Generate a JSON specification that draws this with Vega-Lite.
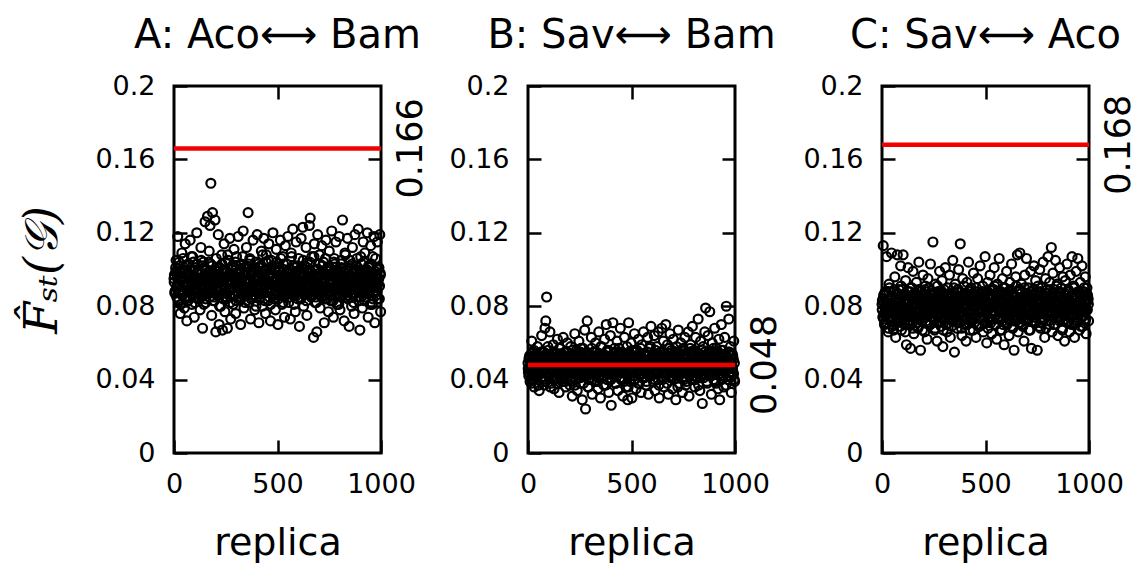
{
 "$schema": "https://vega.github.io/schema/vega-lite/v6.json",
 "background": "white",
 "padding": {"left": 18, "top": 14, "right": 0, "bottom": 0},
 "spacing": 147,
 "bounds": "flush",
 "config": {
  "view": {"stroke": "black", "strokeWidth": 3},
  "axis": {"domain": false, "grid": false, "labelFont": "DejaVu Sans", "labelFontSize": 27, "labelColor": "black", "tickColor": "black", "tickWidth": 2.5, "tickSize": -13, "titleFont": "DejaVu Sans", "titleFontWeight": "normal", "titleColor": "black", "labelFlush": false, "labelOverlap": false},
  "title": {"font": "DejaVu Sans", "fontSize": 40, "fontWeight": "normal", "color": "black", "frame": "group", "anchor": "middle", "baseline": "alphabetic", "offset": 16}
 },
 "datasets": {
  "lines": [{"p": "A", "v": 0.166}, {"p": "B", "v": 0.048}, {"p": "C", "v": 0.168}],
  "pts": [
{"r":2,"a":0.097,"b":0.044,"c":0.083},{"r":6,"a":0.088,"b":0.052,"c":0.113},{"r":10,"a":0.105,"b":0.039,"c":0.076},{"r":14,"a":0.091,"b":0.049,"c":0.071},{"r":18,"a":0.118,"b":0.061,"c":0.088},{"r":22,"a":0.083,"b":0.043,"c":0.107},{"r":26,"a":0.099,"b":0.055,"c":0.079},{"r":30,"a":0.076,"b":0.036,"c":0.066},{"r":34,"a":0.094,"b":0.047,"c":0.092},{"r":38,"a":0.109,"b":0.051,"c":0.074},
{"r":42,"a":0.087,"b":0.041,"c":0.085},{"r":46,"a":0.100,"b":0.058,"c":0.109},{"r":50,"a":0.079,"b":0.045,"c":0.069},{"r":54,"a":0.114,"b":0.034,"c":0.081},{"r":58,"a":0.092,"b":0.053,"c":0.077},{"r":62,"a":0.072,"b":0.048,"c":0.096},{"r":66,"a":0.096,"b":0.064,"c":0.063},{"r":70,"a":0.103,"b":0.040,"c":0.084},{"r":74,"a":0.085,"b":0.050,"c":0.108},{"r":78,"a":0.116,"b":0.037,"c":0.073},
{"r":82,"a":0.090,"b":0.068,"c":0.089},{"r":86,"a":0.081,"b":0.072,"c":0.075},{"r":90,"a":0.107,"b":0.085,"c":0.102},{"r":94,"a":0.095,"b":0.046,"c":0.067},{"r":98,"a":0.074,"b":0.056,"c":0.080},{"r":102,"a":0.101,"b":0.042,"c":0.108},{"r":106,"a":0.089,"b":0.066,"c":0.086},{"r":110,"a":0.120,"b":0.038,"c":0.072},{"r":114,"a":0.084,"b":0.052,"c":0.094},{"r":118,"a":0.098,"b":0.044,"c":0.059},
{"r":122,"a":0.093,"b":0.059,"c":0.078},{"r":126,"a":0.078,"b":0.035,"c":0.101},{"r":130,"a":0.112,"b":0.049,"c":0.070},{"r":134,"a":0.086,"b":0.054,"c":0.083},{"r":138,"a":0.068,"b":0.041,"c":0.057},{"r":142,"a":0.104,"b":0.062,"c":0.090},{"r":146,"a":0.091,"b":0.047,"c":0.076},{"r":150,"a":0.126,"b":0.033,"c":0.099},{"r":154,"a":0.082,"b":0.057,"c":0.065},{"r":158,"a":0.097,"b":0.045,"c":0.087},
{"r":162,"a":0.129,"b":0.050,"c":0.074},{"r":166,"a":0.088,"b":0.039,"c":0.093},{"r":170,"a":0.110,"b":0.063,"c":0.081},{"r":174,"a":0.124,"b":0.043,"c":0.068},{"r":178,"a":0.147,"b":0.055,"c":0.104},{"r":182,"a":0.075,"b":0.036,"c":0.079},{"r":186,"a":0.131,"b":0.048,"c":0.056},{"r":190,"a":0.094,"b":0.060,"c":0.088},{"r":194,"a":0.083,"b":0.042,"c":0.072},{"r":198,"a":0.127,"b":0.051,"c":0.097},
{"r":202,"a":0.066,"b":0.037,"c":0.084},{"r":206,"a":0.101,"b":0.058,"c":0.066},{"r":210,"a":0.089,"b":0.044,"c":0.091},{"r":214,"a":0.119,"b":0.031,"c":0.077},{"r":218,"a":0.070,"b":0.053,"c":0.062},{"r":222,"a":0.096,"b":0.047,"c":0.095},{"r":226,"a":0.080,"b":0.065,"c":0.082},{"r":230,"a":0.108,"b":0.040,"c":0.070},{"r":234,"a":0.067,"b":0.056,"c":0.103},{"r":238,"a":0.092,"b":0.034,"c":0.086},
{"r":242,"a":0.114,"b":0.049,"c":0.074},{"r":246,"a":0.077,"b":0.061,"c":0.115},{"r":250,"a":0.099,"b":0.045,"c":0.080},{"r":254,"a":0.085,"b":0.038,"c":0.067},{"r":258,"a":0.068,"b":0.052,"c":0.092},{"r":262,"a":0.105,"b":0.029,"c":0.078},{"r":266,"a":0.093,"b":0.057,"c":0.061},{"r":270,"a":0.117,"b":0.043,"c":0.088},{"r":274,"a":0.073,"b":0.067,"c":0.075},{"r":278,"a":0.090,"b":0.024,"c":0.099},
{"r":282,"a":0.102,"b":0.050,"c":0.083},{"r":286,"a":0.081,"b":0.072,"c":0.069},{"r":290,"a":0.111,"b":0.036,"c":0.094},{"r":294,"a":0.095,"b":0.054,"c":0.058},{"r":298,"a":0.076,"b":0.046,"c":0.085},{"r":302,"a":0.107,"b":0.041,"c":0.073},{"r":306,"a":0.088,"b":0.063,"c":0.101},{"r":310,"a":0.118,"b":0.032,"c":0.080},{"r":314,"a":0.084,"b":0.048,"c":0.066},{"r":318,"a":0.098,"b":0.055,"c":0.090},
{"r":322,"a":0.070,"b":0.039,"c":0.077},{"r":326,"a":0.103,"b":0.060,"c":0.097},{"r":330,"a":0.091,"b":0.044,"c":0.063},{"r":334,"a":0.121,"b":0.051,"c":0.086},{"r":338,"a":0.079,"b":0.035,"c":0.072},{"r":342,"a":0.097,"b":0.066,"c":0.105},{"r":346,"a":0.086,"b":0.047,"c":0.081},{"r":350,"a":0.112,"b":0.030,"c":0.055},{"r":354,"a":0.094,"b":0.058,"c":0.092},{"r":358,"a":0.131,"b":0.042,"c":0.076},
{"r":362,"a":0.082,"b":0.053,"c":0.068},{"r":366,"a":0.106,"b":0.037,"c":0.089},{"r":370,"a":0.073,"b":0.062,"c":0.100},{"r":374,"a":0.099,"b":0.045,"c":0.074},{"r":378,"a":0.088,"b":0.070,"c":0.114},{"r":382,"a":0.116,"b":0.040,"c":0.083},{"r":386,"a":0.092,"b":0.056,"c":0.064},{"r":390,"a":0.078,"b":0.033,"c":0.095},{"r":394,"a":0.104,"b":0.049,"c":0.079},{"r":398,"a":0.085,"b":0.064,"c":0.070},
{"r":402,"a":0.119,"b":0.026,"c":0.087},{"r":406,"a":0.095,"b":0.052,"c":0.061},{"r":410,"a":0.071,"b":0.071,"c":0.093},{"r":414,"a":0.101,"b":0.043,"c":0.076},{"r":418,"a":0.087,"b":0.057,"c":0.104},{"r":422,"a":0.110,"b":0.038,"c":0.082},{"r":426,"a":0.080,"b":0.048,"c":0.067},{"r":430,"a":0.096,"b":0.061,"c":0.090},{"r":434,"a":0.117,"b":0.034,"c":0.073},{"r":438,"a":0.090,"b":0.054,"c":0.085},
{"r":442,"a":0.076,"b":0.046,"c":0.098},{"r":446,"a":0.108,"b":0.068,"c":0.071},{"r":450,"a":0.093,"b":0.040,"c":0.088},{"r":454,"a":0.083,"b":0.055,"c":0.063},{"r":458,"a":0.114,"b":0.031,"c":0.080},{"r":462,"a":0.098,"b":0.050,"c":0.095},{"r":466,"a":0.072,"b":0.063,"c":0.077},{"r":470,"a":0.105,"b":0.044,"c":0.069},{"r":474,"a":0.089,"b":0.036,"c":0.102},{"r":478,"a":0.120,"b":0.058,"c":0.084},
{"r":482,"a":0.084,"b":0.029,"c":0.074},{"r":486,"a":0.100,"b":0.071,"c":0.091},{"r":490,"a":0.078,"b":0.047,"c":0.066},{"r":494,"a":0.111,"b":0.039,"c":0.086},{"r":498,"a":0.094,"b":0.060,"c":0.107},{"r":502,"a":0.070,"b":0.030,"c":0.078},{"r":506,"a":0.103,"b":0.053,"c":0.060},{"r":510,"a":0.087,"b":0.042,"c":0.093},{"r":514,"a":0.116,"b":0.065,"c":0.081},{"r":518,"a":0.092,"b":0.049,"c":0.072},
{"r":522,"a":0.081,"b":0.035,"c":0.097},{"r":526,"a":0.107,"b":0.056,"c":0.084},{"r":530,"a":0.096,"b":0.044,"c":0.065},{"r":534,"a":0.074,"b":0.062,"c":0.089},{"r":538,"a":0.113,"b":0.038,"c":0.076},{"r":542,"a":0.088,"b":0.051,"c":0.101},{"r":546,"a":0.099,"b":0.033,"c":0.070},{"r":550,"a":0.118,"b":0.059,"c":0.087},{"r":554,"a":0.082,"b":0.045,"c":0.062},{"r":558,"a":0.095,"b":0.066,"c":0.092},
{"r":562,"a":0.073,"b":0.041,"c":0.079},{"r":566,"a":0.109,"b":0.054,"c":0.106},{"r":570,"a":0.091,"b":0.037,"c":0.073},{"r":574,"a":0.122,"b":0.048,"c":0.088},{"r":578,"a":0.086,"b":0.063,"c":0.067},{"r":582,"a":0.101,"b":0.032,"c":0.095},{"r":586,"a":0.077,"b":0.057,"c":0.081},{"r":590,"a":0.115,"b":0.043,"c":0.059},{"r":594,"a":0.093,"b":0.069,"c":0.090},{"r":598,"a":0.084,"b":0.046,"c":0.075},
{"r":602,"a":0.106,"b":0.052,"c":0.099},{"r":606,"a":0.069,"b":0.039,"c":0.071},{"r":610,"a":0.097,"b":0.064,"c":0.085},{"r":614,"a":0.117,"b":0.034,"c":0.064},{"r":618,"a":0.088,"b":0.050,"c":0.093},{"r":622,"a":0.123,"b":0.058,"c":0.078},{"r":626,"a":0.080,"b":0.044,"c":0.103},{"r":630,"a":0.102,"b":0.066,"c":0.069},{"r":634,"a":0.094,"b":0.030,"c":0.087},{"r":638,"a":0.112,"b":0.055,"c":0.056},
{"r":642,"a":0.075,"b":0.047,"c":0.082},{"r":646,"a":0.099,"b":0.068,"c":0.096},{"r":650,"a":0.089,"b":0.040,"c":0.074},{"r":654,"a":0.124,"b":0.061,"c":0.108},{"r":658,"a":0.128,"b":0.036,"c":0.066},{"r":662,"a":0.085,"b":0.053,"c":0.089},{"r":666,"a":0.107,"b":0.070,"c":0.109},{"r":670,"a":0.096,"b":0.043,"c":0.077},{"r":674,"a":0.063,"b":0.059,"c":0.092},{"r":678,"a":0.114,"b":0.032,"c":0.070},
{"r":682,"a":0.082,"b":0.049,"c":0.085},{"r":686,"a":0.100,"b":0.065,"c":0.061},{"r":690,"a":0.066,"b":0.041,"c":0.097},{"r":694,"a":0.119,"b":0.056,"c":0.080},{"r":698,"a":0.091,"b":0.035,"c":0.106},{"r":702,"a":0.108,"b":0.062,"c":0.073},{"r":706,"a":0.079,"b":0.045,"c":0.090},{"r":710,"a":0.097,"b":0.052,"c":0.067},{"r":714,"a":0.113,"b":0.029,"c":0.084},{"r":718,"a":0.086,"b":0.058,"c":0.099},
{"r":722,"a":0.104,"b":0.042,"c":0.057},{"r":726,"a":0.071,"b":0.067,"c":0.088},{"r":730,"a":0.095,"b":0.038,"c":0.076},{"r":734,"a":0.116,"b":0.051,"c":0.102},{"r":738,"a":0.087,"b":0.060,"c":0.071},{"r":742,"a":0.101,"b":0.046,"c":0.094},{"r":746,"a":0.077,"b":0.033,"c":0.083},{"r":750,"a":0.110,"b":0.057,"c":0.056},{"r":754,"a":0.093,"b":0.044,"c":0.091},{"r":758,"a":0.083,"b":0.063,"c":0.078},
{"r":762,"a":0.121,"b":0.037,"c":0.100},{"r":766,"a":0.098,"b":0.054,"c":0.068},{"r":770,"a":0.074,"b":0.047,"c":0.086},{"r":774,"a":0.106,"b":0.066,"c":0.074},{"r":778,"a":0.090,"b":0.031,"c":0.104},{"r":782,"a":0.115,"b":0.050,"c":0.080},{"r":786,"a":0.081,"b":0.059,"c":0.063},{"r":790,"a":0.099,"b":0.040,"c":0.095},{"r":794,"a":0.092,"b":0.069,"c":0.076},{"r":798,"a":0.118,"b":0.045,"c":0.089},
{"r":802,"a":0.078,"b":0.056,"c":0.107},{"r":806,"a":0.103,"b":0.036,"c":0.072},{"r":810,"a":0.088,"b":0.063,"c":0.093},{"r":814,"a":0.127,"b":0.048,"c":0.081},{"r":818,"a":0.096,"b":0.041,"c":0.112},{"r":822,"a":0.072,"b":0.073,"c":0.066},{"r":826,"a":0.109,"b":0.053,"c":0.098},{"r":830,"a":0.085,"b":0.034,"c":0.085},{"r":834,"a":0.100,"b":0.061,"c":0.070},{"r":838,"a":0.117,"b":0.046,"c":0.105},
{"r":842,"a":0.091,"b":0.027,"c":0.077},{"r":846,"a":0.069,"b":0.058,"c":0.092},{"r":850,"a":0.105,"b":0.043,"c":0.064},{"r":854,"a":0.094,"b":0.066,"c":0.087},{"r":858,"a":0.080,"b":0.079,"c":0.101},{"r":862,"a":0.112,"b":0.050,"c":0.074},{"r":866,"a":0.098,"b":0.038,"c":0.090},{"r":870,"a":0.076,"b":0.064,"c":0.068},{"r":874,"a":0.119,"b":0.047,"c":0.096},{"r":878,"a":0.087,"b":0.077,"c":0.083},
{"r":882,"a":0.102,"b":0.055,"c":0.061},{"r":886,"a":0.093,"b":0.032,"c":0.094},{"r":890,"a":0.122,"b":0.060,"c":0.079},{"r":894,"a":0.083,"b":0.044,"c":0.103},{"r":898,"a":0.067,"b":0.052,"c":0.072},{"r":902,"a":0.107,"b":0.068,"c":0.088},{"r":906,"a":0.095,"b":0.039,"c":0.066},{"r":910,"a":0.079,"b":0.057,"c":0.097},{"r":914,"a":0.115,"b":0.045,"c":0.082},{"r":918,"a":0.090,"b":0.035,"c":0.107},
{"r":922,"a":0.109,"b":0.062,"c":0.075},{"r":926,"a":0.085,"b":0.029,"c":0.091},{"r":930,"a":0.100,"b":0.049,"c":0.063},{"r":934,"a":0.120,"b":0.070,"c":0.086},{"r":938,"a":0.074,"b":0.042,"c":0.099},{"r":942,"a":0.096,"b":0.056,"c":0.071},{"r":946,"a":0.088,"b":0.036,"c":0.106},{"r":950,"a":0.113,"b":0.063,"c":0.080},{"r":954,"a":0.103,"b":0.045,"c":0.067},{"r":958,"a":0.081,"b":0.080,"c":0.093},
{"r":962,"a":0.097,"b":0.051,"c":0.078},{"r":966,"a":0.118,"b":0.040,"c":0.102},{"r":970,"a":0.071,"b":0.073,"c":0.069},{"r":974,"a":0.106,"b":0.047,"c":0.088},{"r":978,"a":0.092,"b":0.058,"c":0.075},{"r":982,"a":0.115,"b":0.033,"c":0.096},{"r":986,"a":0.084,"b":0.054,"c":0.065},{"r":990,"a":0.101,"b":0.044,"c":0.090},{"r":994,"a":0.119,"b":0.061,"c":0.083},{"r":998,"a":0.077,"b":0.039,"c":0.072},
{"r":0,"a":0.095,"b":0.049,"c":0.081},{"r":4,"a":0.087,"b":0.042,"c":0.074},{"r":8,"a":0.101,"b":0.053,"c":0.086},{"r":12,"a":0.090,"b":0.045,"c":0.070},{"r":16,"a":0.098,"b":0.038,"c":0.079},{"r":20,"a":0.084,"b":0.051,"c":0.088},{"r":24,"a":0.104,"b":0.047,"c":0.076},{"r":28,"a":0.092,"b":0.056,"c":0.083},{"r":32,"a":0.081,"b":0.040,"c":0.068},{"r":36,"a":0.096,"b":0.048,"c":0.090},
{"r":40,"a":0.089,"b":0.054,"c":0.078},{"r":44,"a":0.106,"b":0.043,"c":0.072},{"r":48,"a":0.093,"b":0.050,"c":0.085},{"r":52,"a":0.085,"b":0.037,"c":0.080},{"r":56,"a":0.099,"b":0.046,"c":0.067},{"r":60,"a":0.091,"b":0.052,"c":0.089},{"r":64,"a":0.102,"b":0.041,"c":0.075},{"r":68,"a":0.083,"b":0.049,"c":0.082},{"r":72,"a":0.097,"b":0.044,"c":0.071},{"r":76,"a":0.088,"b":0.055,"c":0.087},
{"r":80,"a":0.094,"b":0.047,"c":0.077},{"r":84,"a":0.107,"b":0.039,"c":0.084},{"r":88,"a":0.086,"b":0.052,"c":0.069},{"r":92,"a":0.100,"b":0.045,"c":0.091},{"r":96,"a":0.092,"b":0.058,"c":0.080},{"r":100,"a":0.082,"b":0.042,"c":0.073},{"r":104,"a":0.096,"b":0.049,"c":0.086},{"r":108,"a":0.090,"b":0.036,"c":0.078},{"r":112,"a":0.103,"b":0.053,"c":0.066},{"r":116,"a":0.087,"b":0.046,"c":0.083},
{"r":120,"a":0.099,"b":0.050,"c":0.075},{"r":124,"a":0.084,"b":0.040,"c":0.088},{"r":128,"a":0.093,"b":0.055,"c":0.079},{"r":132,"a":0.105,"b":0.044,"c":0.071},{"r":136,"a":0.089,"b":0.048,"c":0.085},{"r":140,"a":0.096,"b":0.038,"c":0.077},{"r":144,"a":0.081,"b":0.052,"c":0.090},{"r":148,"a":0.101,"b":0.046,"c":0.068},{"r":152,"a":0.094,"b":0.057,"c":0.082},{"r":156,"a":0.087,"b":0.041,"c":0.074},
{"r":160,"a":0.098,"b":0.049,"c":0.087},{"r":164,"a":0.091,"b":0.054,"c":0.076},{"r":168,"a":0.104,"b":0.043,"c":0.081},{"r":172,"a":0.085,"b":0.047,"c":0.069},{"r":176,"a":0.095,"b":0.051,"c":0.089},{"r":180,"a":0.088,"b":0.039,"c":0.078},{"r":184,"a":0.102,"b":0.055,"c":0.073},{"r":188,"a":0.092,"b":0.045,"c":0.086},{"r":192,"a":0.083,"b":0.050,"c":0.080},{"r":196,"a":0.097,"b":0.042,"c":0.067},
{"r":200,"a":0.090,"b":0.048,"c":0.084},{"r":204,"a":0.106,"b":0.053,"c":0.075},{"r":208,"a":0.086,"b":0.040,"c":0.088},{"r":212,"a":0.099,"b":0.046,"c":0.079},{"r":216,"a":0.093,"b":0.056,"c":0.071},{"r":220,"a":0.080,"b":0.044,"c":0.083},{"r":224,"a":0.095,"b":0.050,"c":0.077},{"r":228,"a":0.089,"b":0.037,"c":0.090},{"r":232,"a":0.103,"b":0.052,"c":0.070},{"r":236,"a":0.087,"b":0.047,"c":0.082},
{"r":240,"a":0.096,"b":0.043,"c":0.076},{"r":244,"a":0.091,"b":0.054,"c":0.087},{"r":248,"a":0.100,"b":0.049,"c":0.073},{"r":252,"a":0.084,"b":0.041,"c":0.080},{"r":256,"a":0.094,"b":0.057,"c":0.068},{"r":260,"a":0.108,"b":0.045,"c":0.085},{"r":264,"a":0.088,"b":0.050,"c":0.078},{"r":268,"a":0.097,"b":0.038,"c":0.091},{"r":272,"a":0.082,"b":0.053,"c":0.074},{"r":276,"a":0.093,"b":0.046,"c":0.081},
{"r":280,"a":0.101,"b":0.042,"c":0.088},{"r":284,"a":0.086,"b":0.055,"c":0.072},{"r":288,"a":0.095,"b":0.048,"c":0.079},{"r":292,"a":0.090,"b":0.036,"c":0.084},{"r":296,"a":0.104,"b":0.051,"c":0.067},{"r":300,"a":0.083,"b":0.044,"c":0.089},{"r":304,"a":0.098,"b":0.049,"c":0.076},{"r":308,"a":0.092,"b":0.057,"c":0.082},{"r":312,"a":0.087,"b":0.040,"c":0.070},{"r":316,"a":0.096,"b":0.053,"c":0.086},
{"r":320,"a":0.100,"b":0.046,"c":0.078},{"r":324,"a":0.085,"b":0.050,"c":0.073},{"r":328,"a":0.094,"b":0.043,"c":0.087},{"r":332,"a":0.107,"b":0.055,"c":0.080},{"r":336,"a":0.089,"b":0.039,"c":0.069},{"r":340,"a":0.097,"b":0.048,"c":0.083},{"r":344,"a":0.082,"b":0.052,"c":0.076},{"r":348,"a":0.093,"b":0.045,"c":0.090},{"r":352,"a":0.102,"b":0.058,"c":0.074},{"r":356,"a":0.088,"b":0.041,"c":0.081},
{"r":360,"a":0.095,"b":0.049,"c":0.085},{"r":364,"a":0.090,"b":0.054,"c":0.071},{"r":368,"a":0.105,"b":0.044,"c":0.079},{"r":372,"a":0.084,"b":0.047,"c":0.088},{"r":376,"a":0.098,"b":0.037,"c":0.075},{"r":380,"a":0.092,"b":0.051,"c":0.082},{"r":384,"a":0.086,"b":0.056,"c":0.068},{"r":388,"a":0.101,"b":0.043,"c":0.086},{"r":392,"a":0.094,"b":0.048,"c":0.077},{"r":396,"a":0.080,"b":0.040,"c":0.091},
{"r":400,"a":0.097,"b":0.053,"c":0.073},{"r":404,"a":0.089,"b":0.046,"c":0.080},{"r":408,"a":0.103,"b":0.050,"c":0.087},{"r":412,"a":0.091,"b":0.042,"c":0.070},{"r":416,"a":0.085,"b":0.055,"c":0.083},{"r":420,"a":0.099,"b":0.047,"c":0.076},{"r":424,"a":0.094,"b":0.038,"c":0.089},{"r":428,"a":0.108,"b":0.052,"c":0.072},{"r":432,"a":0.087,"b":0.045,"c":0.084},{"r":436,"a":0.096,"b":0.049,"c":0.078},
{"r":440,"a":0.083,"b":0.057,"c":0.067},{"r":444,"a":0.100,"b":0.041,"c":0.085},{"r":448,"a":0.092,"b":0.051,"c":0.080},{"r":452,"a":0.088,"b":0.044,"c":0.074},{"r":456,"a":0.105,"b":0.048,"c":0.090},{"r":460,"a":0.090,"b":0.054,"c":0.077},{"r":464,"a":0.097,"b":0.039,"c":0.082},{"r":468,"a":0.081,"b":0.047,"c":0.069},{"r":472,"a":0.095,"b":0.053,"c":0.086},{"r":476,"a":0.102,"b":0.043,"c":0.079},
{"r":480,"a":0.086,"b":0.050,"c":0.073},{"r":484,"a":0.093,"b":0.036,"c":0.088},{"r":488,"a":0.099,"b":0.055,"c":0.081},{"r":492,"a":0.088,"b":0.046,"c":0.075},{"r":496,"a":0.104,"b":0.042,"c":0.084},{"r":500,"a":0.091,"b":0.049,"c":0.071},{"r":504,"a":0.084,"b":0.056,"c":0.087},{"r":508,"a":0.097,"b":0.044,"c":0.078},{"r":512,"a":0.094,"b":0.051,"c":0.068},{"r":516,"a":0.106,"b":0.040,"c":0.082},
{"r":520,"a":0.089,"b":0.048,"c":0.089},{"r":524,"a":0.095,"b":0.053,"c":0.076},{"r":528,"a":0.082,"b":0.045,"c":0.080},{"r":532,"a":0.100,"b":0.038,"c":0.073},{"r":536,"a":0.092,"b":0.052,"c":0.086},{"r":540,"a":0.087,"b":0.047,"c":0.077},{"r":544,"a":0.103,"b":0.057,"c":0.091},{"r":548,"a":0.096,"b":0.043,"c":0.070},{"r":552,"a":0.090,"b":0.050,"c":0.083},{"r":556,"a":0.085,"b":0.041,"c":0.079},
{"r":560,"a":0.098,"b":0.054,"c":0.074},{"r":564,"a":0.093,"b":0.046,"c":0.088},{"r":568,"a":0.107,"b":0.049,"c":0.081},{"r":572,"a":0.088,"b":0.039,"c":0.067},{"r":576,"a":0.095,"b":0.055,"c":0.085},{"r":580,"a":0.081,"b":0.044,"c":0.078},{"r":584,"a":0.099,"b":0.051,"c":0.072},{"r":588,"a":0.091,"b":0.047,"c":0.090},{"r":592,"a":0.086,"b":0.058,"c":0.080},{"r":596,"a":0.102,"b":0.042,"c":0.075},
{"r":600,"a":0.094,"b":0.049,"c":0.084},{"r":604,"a":0.089,"b":0.053,"c":0.070},{"r":608,"a":0.100,"b":0.045,"c":0.087},{"r":612,"a":0.084,"b":0.040,"c":0.079},{"r":616,"a":0.096,"b":0.056,"c":0.073},{"r":620,"a":0.092,"b":0.048,"c":0.089},{"r":624,"a":0.105,"b":0.043,"c":0.076},{"r":628,"a":0.087,"b":0.052,"c":0.082},{"r":632,"a":0.097,"b":0.037,"c":0.068},{"r":636,"a":0.090,"b":0.050,"c":0.086},
{"r":640,"a":0.083,"b":0.046,"c":0.080},{"r":644,"a":0.101,"b":0.055,"c":0.074},{"r":648,"a":0.095,"b":0.044,"c":0.091},{"r":652,"a":0.088,"b":0.049,"c":0.077},{"r":656,"a":0.104,"b":0.041,"c":0.084},{"r":660,"a":0.091,"b":0.054,"c":0.071},{"r":664,"a":0.098,"b":0.047,"c":0.088},{"r":668,"a":0.086,"b":0.052,"c":0.079},{"r":672,"a":0.093,"b":0.038,"c":0.073},{"r":676,"a":0.107,"b":0.050,"c":0.085},
{"r":680,"a":0.089,"b":0.045,"c":0.069},{"r":684,"a":0.096,"b":0.057,"c":0.082},{"r":688,"a":0.082,"b":0.042,"c":0.090},{"r":692,"a":0.100,"b":0.048,"c":0.076},{"r":696,"a":0.092,"b":0.053,"c":0.080},{"r":700,"a":0.087,"b":0.046,"c":0.087},{"r":704,"a":0.103,"b":0.040,"c":0.072},{"r":708,"a":0.094,"b":0.051,"c":0.083},{"r":712,"a":0.090,"b":0.055,"c":0.078},{"r":716,"a":0.085,"b":0.043,"c":0.067},
{"r":720,"a":0.099,"b":0.049,"c":0.086},{"r":724,"a":0.095,"b":0.036,"c":0.075},{"r":728,"a":0.088,"b":0.052,"c":0.081},{"r":732,"a":0.106,"b":0.047,"c":0.089},{"r":736,"a":0.091,"b":0.044,"c":0.074},{"r":740,"a":0.084,"b":0.056,"c":0.080},{"r":744,"a":0.097,"b":0.050,"c":0.071},{"r":748,"a":0.093,"b":0.041,"c":0.088},{"r":752,"a":0.101,"b":0.048,"c":0.077},{"r":756,"a":0.086,"b":0.054,"c":0.084},
{"r":760,"a":0.092,"b":0.045,"c":0.069},{"r":764,"a":0.098,"b":0.039,"c":0.083},{"r":768,"a":0.083,"b":0.053,"c":0.079},{"r":772,"a":0.104,"b":0.047,"c":0.090},{"r":776,"a":0.090,"b":0.050,"c":0.073},{"r":780,"a":0.095,"b":0.042,"c":0.085},{"r":784,"a":0.087,"b":0.057,"c":0.078},{"r":788,"a":0.100,"b":0.046,"c":0.082},{"r":792,"a":0.094,"b":0.051,"c":0.068},{"r":796,"a":0.081,"b":0.044,"c":0.087},
{"r":800,"a":0.096,"b":0.049,"c":0.076},{"r":804,"a":0.089,"b":0.055,"c":0.084},{"r":808,"a":0.105,"b":0.040,"c":0.072},{"r":812,"a":0.092,"b":0.048,"c":0.089},{"r":816,"a":0.086,"b":0.052,"c":0.080},{"r":820,"a":0.099,"b":0.045,"c":0.075},{"r":824,"a":0.093,"b":0.037,"c":0.086},{"r":828,"a":0.108,"b":0.054,"c":0.079},{"r":832,"a":0.088,"b":0.047,"c":0.070},{"r":836,"a":0.095,"b":0.043,"c":0.083},
{"r":840,"a":0.084,"b":0.050,"c":0.077},{"r":844,"a":0.101,"b":0.056,"c":0.091},{"r":848,"a":0.091,"b":0.041,"c":0.074},{"r":852,"a":0.097,"b":0.048,"c":0.081},{"r":856,"a":0.087,"b":0.053,"c":0.088},{"r":860,"a":0.103,"b":0.046,"c":0.073},{"r":864,"a":0.094,"b":0.039,"c":0.085},{"r":868,"a":0.082,"b":0.051,"c":0.078},{"r":872,"a":0.099,"b":0.055,"c":0.067},{"r":876,"a":0.090,"b":0.044,"c":0.084},
{"r":880,"a":0.096,"b":0.049,"c":0.080},{"r":884,"a":0.106,"b":0.042,"c":0.087},{"r":888,"a":0.088,"b":0.052,"c":0.075},{"r":892,"a":0.093,"b":0.047,"c":0.082},{"r":896,"a":0.085,"b":0.057,"c":0.071},{"r":900,"a":0.100,"b":0.045,"c":0.089},{"r":904,"a":0.092,"b":0.050,"c":0.076},{"r":908,"a":0.097,"b":0.038,"c":0.083},{"r":912,"a":0.089,"b":0.054,"c":0.079},{"r":916,"a":0.104,"b":0.046,"c":0.070},
{"r":920,"a":0.083,"b":0.051,"c":0.086},{"r":924,"a":0.095,"b":0.043,"c":0.078},{"r":928,"a":0.091,"b":0.048,"c":0.090},{"r":932,"a":0.098,"b":0.056,"c":0.074},{"r":936,"a":0.087,"b":0.040,"c":0.081},{"r":940,"a":0.102,"b":0.049,"c":0.085},{"r":944,"a":0.094,"b":0.053,"c":0.072},{"r":948,"a":0.081,"b":0.045,"c":0.088},{"r":952,"a":0.096,"b":0.050,"c":0.077},{"r":956,"a":0.090,"b":0.037,"c":0.083},
{"r":960,"a":0.107,"b":0.052,"c":0.069},{"r":964,"a":0.088,"b":0.047,"c":0.086},{"r":968,"a":0.093,"b":0.055,"c":0.079},{"r":972,"a":0.099,"b":0.042,"c":0.075},{"r":976,"a":0.086,"b":0.049,"c":0.090},{"r":980,"a":0.101,"b":0.044,"c":0.080},{"r":984,"a":0.092,"b":0.054,"c":0.073},{"r":988,"a":0.095,"b":0.046,"c":0.087},{"r":992,"a":0.084,"b":0.051,"c":0.078},{"r":996,"a":0.098,"b":0.040,"c":0.084},
{"r":1,"a":0.093,"b":0.046,"c":0.078},{"r":5,"a":0.088,"b":0.051,"c":0.084},{"r":9,"a":0.099,"b":0.043,"c":0.073},{"r":13,"a":0.085,"b":0.048,"c":0.087},{"r":17,"a":0.096,"b":0.054,"c":0.080},{"r":21,"a":0.091,"b":0.040,"c":0.071},{"r":25,"a":0.102,"b":0.047,"c":0.082},{"r":29,"a":0.087,"b":0.052,"c":0.076},{"r":33,"a":0.094,"b":0.044,"c":0.088},{"r":37,"a":0.098,"b":0.049,"c":0.074},
{"r":41,"a":0.086,"b":0.053,"c":0.081},{"r":45,"a":0.095,"b":0.042,"c":0.077},{"r":49,"a":0.101,"b":0.047,"c":0.085},{"r":53,"a":0.090,"b":0.050,"c":0.070},{"r":57,"a":0.084,"b":0.045,"c":0.079},{"r":61,"a":0.097,"b":0.055,"c":0.083},{"r":65,"a":0.092,"b":0.041,"c":0.075},{"r":69,"a":0.103,"b":0.048,"c":0.086},{"r":73,"a":0.089,"b":0.052,"c":0.072},{"r":77,"a":0.094,"b":0.046,"c":0.080},
{"r":81,"a":0.099,"b":0.039,"c":0.078},{"r":85,"a":0.087,"b":0.050,"c":0.084},{"r":89,"a":0.093,"b":0.054,"c":0.073},{"r":93,"a":0.104,"b":0.044,"c":0.081},{"r":97,"a":0.090,"b":0.048,"c":0.089},{"r":101,"a":0.096,"b":0.053,"c":0.076},{"r":105,"a":0.085,"b":0.043,"c":0.082},{"r":109,"a":0.098,"b":0.047,"c":0.070},{"r":113,"a":0.092,"b":0.051,"c":0.079},{"r":117,"a":0.100,"b":0.045,"c":0.086},
{"r":121,"a":0.088,"b":0.049,"c":0.075},{"r":125,"a":0.095,"b":0.055,"c":0.083},{"r":129,"a":0.091,"b":0.041,"c":0.078},{"r":133,"a":0.086,"b":0.046,"c":0.088},{"r":137,"a":0.102,"b":0.052,"c":0.072},{"r":141,"a":0.094,"b":0.048,"c":0.080},{"r":145,"a":0.089,"b":0.043,"c":0.085},{"r":149,"a":0.097,"b":0.050,"c":0.074},{"r":153,"a":0.084,"b":0.054,"c":0.081},{"r":157,"a":0.100,"b":0.045,"c":0.077},
{"r":161,"a":0.093,"b":0.040,"c":0.087},{"r":165,"a":0.087,"b":0.049,"c":0.071},{"r":169,"a":0.096,"b":0.053,"c":0.079},{"r":173,"a":0.091,"b":0.046,"c":0.084},{"r":177,"a":0.103,"b":0.042,"c":0.076},{"r":181,"a":0.089,"b":0.051,"c":0.082},{"r":185,"a":0.095,"b":0.047,"c":0.073},{"r":189,"a":0.098,"b":0.055,"c":0.086},{"r":193,"a":0.085,"b":0.044,"c":0.080},{"r":197,"a":0.092,"b":0.048,"c":0.075},
{"r":201,"a":0.100,"b":0.052,"c":0.083},{"r":205,"a":0.088,"b":0.045,"c":0.078},{"r":209,"a":0.094,"b":0.039,"c":0.089},{"r":213,"a":0.097,"b":0.050,"c":0.072},{"r":217,"a":0.086,"b":0.054,"c":0.081},{"r":221,"a":0.101,"b":0.047,"c":0.076},{"r":225,"a":0.090,"b":0.043,"c":0.085},{"r":229,"a":0.093,"b":0.049,"c":0.079},{"r":233,"a":0.099,"b":0.053,"c":0.070},{"r":237,"a":0.084,"b":0.046,"c":0.084},
{"r":241,"a":0.095,"b":0.051,"c":0.077},{"r":245,"a":0.091,"b":0.041,"c":0.082},{"r":249,"a":0.104,"b":0.048,"c":0.074},{"r":253,"a":0.087,"b":0.055,"c":0.087},{"r":257,"a":0.096,"b":0.044,"c":0.080},{"r":261,"a":0.092,"b":0.050,"c":0.076},{"r":265,"a":0.089,"b":0.046,"c":0.083},{"r":269,"a":0.098,"b":0.052,"c":0.071},{"r":273,"a":0.085,"b":0.042,"c":0.079},{"r":277,"a":0.094,"b":0.048,"c":0.086},
{"r":281,"a":0.100,"b":0.054,"c":0.075},{"r":285,"a":0.090,"b":0.045,"c":0.081},{"r":289,"a":0.097,"b":0.049,"c":0.088},{"r":293,"a":0.086,"b":0.040,"c":0.073},{"r":297,"a":0.093,"b":0.053,"c":0.080},{"r":301,"a":0.102,"b":0.047,"c":0.077},{"r":305,"a":0.088,"b":0.051,"c":0.084},{"r":309,"a":0.095,"b":0.043,"c":0.070},{"r":313,"a":0.091,"b":0.048,"c":0.082},{"r":317,"a":0.099,"b":0.055,"c":0.078},
{"r":321,"a":0.084,"b":0.046,"c":0.086},{"r":325,"a":0.096,"b":0.050,"c":0.074},{"r":329,"a":0.092,"b":0.044,"c":0.081},{"r":333,"a":0.089,"b":0.052,"c":0.076},{"r":337,"a":0.101,"b":0.048,"c":0.085},{"r":341,"a":0.094,"b":0.041,"c":0.079},{"r":345,"a":0.087,"b":0.054,"c":0.072},{"r":349,"a":0.098,"b":0.047,"c":0.087},{"r":353,"a":0.090,"b":0.051,"c":0.080},{"r":357,"a":0.095,"b":0.045,"c":0.075},
{"r":361,"a":0.103,"b":0.049,"c":0.083},{"r":365,"a":0.088,"b":0.053,"c":0.078},{"r":369,"a":0.093,"b":0.042,"c":0.089},{"r":373,"a":0.097,"b":0.048,"c":0.071},{"r":377,"a":0.085,"b":0.050,"c":0.082},{"r":381,"a":0.091,"b":0.055,"c":0.077},{"r":385,"a":0.099,"b":0.044,"c":0.084},{"r":389,"a":0.094,"b":0.047,"c":0.074},{"r":393,"a":0.086,"b":0.052,"c":0.080},{"r":397,"a":0.100,"b":0.046,"c":0.086},
{"r":401,"a":0.092,"b":0.040,"c":0.079},{"r":405,"a":0.089,"b":0.051,"c":0.073},{"r":409,"a":0.096,"b":0.048,"c":0.085},{"r":413,"a":0.084,"b":0.054,"c":0.081},{"r":417,"a":0.102,"b":0.045,"c":0.076},{"r":421,"a":0.093,"b":0.049,"c":0.088},{"r":425,"a":0.090,"b":0.043,"c":0.072},{"r":429,"a":0.098,"b":0.052,"c":0.080},{"r":433,"a":0.087,"b":0.047,"c":0.083},{"r":437,"a":0.095,"b":0.050,"c":0.078},
{"r":441,"a":0.091,"b":0.055,"c":0.075},{"r":445,"a":0.104,"b":0.044,"c":0.086},{"r":449,"a":0.088,"b":0.048,"c":0.079},{"r":453,"a":0.094,"b":0.041,"c":0.082},{"r":457,"a":0.097,"b":0.053,"c":0.070},{"r":461,"a":0.085,"b":0.046,"c":0.084},{"r":465,"a":0.092,"b":0.050,"c":0.077},{"r":469,"a":0.100,"b":0.045,"c":0.087},{"r":473,"a":0.089,"b":0.052,"c":0.074},{"r":477,"a":0.096,"b":0.048,"c":0.081},
{"r":481,"a":0.093,"b":0.042,"c":0.085},{"r":485,"a":0.087,"b":0.054,"c":0.078},{"r":489,"a":0.099,"b":0.047,"c":0.072},{"r":493,"a":0.091,"b":0.051,"c":0.083},{"r":497,"a":0.095,"b":0.044,"c":0.080},{"r":501,"a":0.086,"b":0.049,"c":0.088},{"r":505,"a":0.101,"b":0.053,"c":0.076},{"r":509,"a":0.090,"b":0.046,"c":0.081},{"r":513,"a":0.097,"b":0.040,"c":0.074},{"r":517,"a":0.094,"b":0.050,"c":0.086},
{"r":521,"a":0.088,"b":0.055,"c":0.079},{"r":525,"a":0.092,"b":0.045,"c":0.071},{"r":529,"a":0.103,"b":0.048,"c":0.084},{"r":533,"a":0.085,"b":0.052,"c":0.077},{"r":537,"a":0.096,"b":0.043,"c":0.082},{"r":541,"a":0.091,"b":0.049,"c":0.089},{"r":545,"a":0.098,"b":0.054,"c":0.075},{"r":549,"a":0.089,"b":0.047,"c":0.080},{"r":553,"a":0.094,"b":0.041,"c":0.085},{"r":557,"a":0.100,"b":0.051,"c":0.073},
{"r":561,"a":0.087,"b":0.046,"c":0.081},{"r":565,"a":0.093,"b":0.053,"c":0.078},{"r":569,"a":0.096,"b":0.044,"c":0.087},{"r":573,"a":0.090,"b":0.049,"c":0.074},{"r":577,"a":0.102,"b":0.055,"c":0.083},{"r":581,"a":0.086,"b":0.048,"c":0.079},{"r":585,"a":0.095,"b":0.042,"c":0.070},{"r":589,"a":0.092,"b":0.050,"c":0.086},{"r":593,"a":0.099,"b":0.046,"c":0.082},{"r":597,"a":0.088,"b":0.052,"c":0.076},
{"r":601,"a":0.094,"b":0.047,"c":0.084},{"r":605,"a":0.097,"b":0.043,"c":0.078},{"r":609,"a":0.085,"b":0.051,"c":0.073},{"r":613,"a":0.091,"b":0.054,"c":0.088},{"r":617,"a":0.101,"b":0.045,"c":0.080},{"r":621,"a":0.089,"b":0.049,"c":0.075},{"r":625,"a":0.093,"b":0.053,"c":0.083},{"r":629,"a":0.098,"b":0.040,"c":0.077},{"r":633,"a":0.087,"b":0.048,"c":0.086},{"r":637,"a":0.095,"b":0.052,"c":0.072},
{"r":641,"a":0.092,"b":0.046,"c":0.081},{"r":645,"a":0.104,"b":0.050,"c":0.079},{"r":649,"a":0.090,"b":0.044,"c":0.085},{"r":653,"a":0.096,"b":0.055,"c":0.074},{"r":657,"a":0.086,"b":0.047,"c":0.082},{"r":661,"a":0.099,"b":0.051,"c":0.077},{"r":665,"a":0.093,"b":0.042,"c":0.089},{"r":669,"a":0.088,"b":0.048,"c":0.071},{"r":673,"a":0.097,"b":0.053,"c":0.080},{"r":677,"a":0.091,"b":0.045,"c":0.084},
{"r":681,"a":0.094,"b":0.049,"c":0.076},{"r":685,"a":0.085,"b":0.054,"c":0.083},{"r":689,"a":0.100,"b":0.046,"c":0.078},{"r":693,"a":0.092,"b":0.041,"c":0.087},{"r":697,"a":0.089,"b":0.050,"c":0.073},{"r":701,"a":0.096,"b":0.052,"c":0.081},{"r":705,"a":0.098,"b":0.047,"c":0.085},{"r":709,"a":0.087,"b":0.043,"c":0.079},{"r":713,"a":0.093,"b":0.055,"c":0.075},{"r":717,"a":0.102,"b":0.048,"c":0.082},
{"r":721,"a":0.090,"b":0.051,"c":0.088},{"r":725,"a":0.095,"b":0.045,"c":0.072},{"r":729,"a":0.084,"b":0.049,"c":0.080},{"r":733,"a":0.097,"b":0.053,"c":0.084},{"r":737,"a":0.091,"b":0.044,"c":0.077},{"r":741,"a":0.099,"b":0.050,"c":0.086},{"r":745,"a":0.088,"b":0.047,"c":0.074},{"r":749,"a":0.094,"b":0.054,"c":0.081},{"r":753,"a":0.092,"b":0.040,"c":0.079},{"r":757,"a":0.100,"b":0.048,"c":0.083},
{"r":761,"a":0.086,"b":0.052,"c":0.076},{"r":765,"a":0.093,"b":0.046,"c":0.088},{"r":769,"a":0.096,"b":0.051,"c":0.071},{"r":773,"a":0.089,"b":0.043,"c":0.082},{"r":777,"a":0.103,"b":0.049,"c":0.078},{"r":781,"a":0.091,"b":0.055,"c":0.085},{"r":785,"a":0.095,"b":0.045,"c":0.073},{"r":789,"a":0.087,"b":0.050,"c":0.080},{"r":793,"a":0.098,"b":0.047,"c":0.087},{"r":797,"a":0.094,"b":0.053,"c":0.075},
{"r":801,"a":0.090,"b":0.042,"c":0.083},{"r":805,"a":0.085,"b":0.048,"c":0.079},{"r":809,"a":0.101,"b":0.054,"c":0.070},{"r":813,"a":0.093,"b":0.046,"c":0.086},{"r":817,"a":0.097,"b":0.051,"c":0.081},{"r":821,"a":0.088,"b":0.044,"c":0.077},{"r":825,"a":0.095,"b":0.049,"c":0.084},{"r":829,"a":0.092,"b":0.053,"c":0.074},{"r":833,"a":0.099,"b":0.041,"c":0.089},{"r":837,"a":0.086,"b":0.047,"c":0.080},
{"r":841,"a":0.094,"b":0.052,"c":0.076},{"r":845,"a":0.090,"b":0.045,"c":0.082},{"r":849,"a":0.102,"b":0.050,"c":0.085},{"r":853,"a":0.089,"b":0.055,"c":0.078},{"r":857,"a":0.096,"b":0.043,"c":0.072},{"r":861,"a":0.091,"b":0.048,"c":0.087},{"r":865,"a":0.087,"b":0.051,"c":0.080},{"r":869,"a":0.098,"b":0.046,"c":0.075},{"r":873,"a":0.093,"b":0.054,"c":0.083},{"r":877,"a":0.100,"b":0.049,"c":0.079},
{"r":881,"a":0.085,"b":0.044,"c":0.086},{"r":885,"a":0.095,"b":0.050,"c":0.073},{"r":889,"a":0.092,"b":0.053,"c":0.081},{"r":893,"a":0.097,"b":0.047,"c":0.077},{"r":897,"a":0.088,"b":0.040,"c":0.084},{"r":901,"a":0.094,"b":0.052,"c":0.088},{"r":905,"a":0.103,"b":0.048,"c":0.074},{"r":909,"a":0.090,"b":0.045,"c":0.080},{"r":913,"a":0.086,"b":0.055,"c":0.082},{"r":917,"a":0.096,"b":0.049,"c":0.076},
{"r":921,"a":0.093,"b":0.043,"c":0.085},{"r":925,"a":0.099,"b":0.051,"c":0.079},{"r":929,"a":0.089,"b":0.047,"c":0.071},{"r":933,"a":0.095,"b":0.054,"c":0.083},{"r":937,"a":0.091,"b":0.046,"c":0.078},{"r":941,"a":0.101,"b":0.050,"c":0.086},{"r":945,"a":0.087,"b":0.042,"c":0.075},{"r":949,"a":0.094,"b":0.048,"c":0.081},{"r":953,"a":0.097,"b":0.053,"c":0.088},{"r":957,"a":0.092,"b":0.045,"c":0.077},
{"r":961,"a":0.084,"b":0.049,"c":0.082},{"r":965,"a":0.098,"b":0.052,"c":0.074},{"r":969,"a":0.090,"b":0.046,"c":0.080},{"r":973,"a":0.096,"b":0.055,"c":0.085},{"r":977,"a":0.093,"b":0.044,"c":0.079},{"r":981,"a":0.088,"b":0.050,"c":0.072},{"r":985,"a":0.100,"b":0.047,"c":0.084},{"r":989,"a":0.095,"b":0.053,"c":0.078},{"r":993,"a":0.091,"b":0.043,"c":0.086},{"r":997,"a":0.097,"b":0.049,"c":0.081}
  ]
 },
 "hconcat": [
  {
   "width": 207, "height": 367,
   "title": {"text": "A: Aco⟷ Bam"},
   "resolve": {"axis": {"x": "independent", "y": "independent"}},
   "layer": [
    {"data": {"name": "pts"},
     "mark": {"type": "point", "shape": "circle", "filled": false, "color": "black", "strokeWidth": 2.2, "size": 80, "opacity": 1},
     "encoding": {
      "x": {"field": "r", "type": "quantitative", "scale": {"domain": [0, 1000], "nice": false}, "axis": {"orient": "bottom", "values": [0, 500, 1000], "format": "d", "labelFlush": false, "labelPadding": 31, "title": "replica", "titleFontSize": 38, "titlePadding": 27}},
      "y": {"field": "a", "type": "quantitative", "scale": {"domain": [0, 0.2], "nice": false}, "axis": {"orient": "left", "values": [0, 0.04, 0.08, 0.12, 0.16, 0.2], "format": "~g", "labelPadding": 32, "title": "F̂ₛₜ(𝒢)", "titleFont": "DejaVu Serif", "titleFontStyle": "italic", "titleFontSize": 46, "titlePadding": 28}}
     }},
    {"data": {"name": "lines"}, "transform": [{"filter": "datum.p == 'A'"}],
     "mark": {"type": "rule", "color": "#f00000", "strokeWidth": 4.5},
     "encoding": {"y": {"field": "v", "type": "quantitative", "axis": {"orient": "right", "values": [0.04, 0.08, 0.12, 0.16], "labels": false, "title": null}}}},
    {"data": {"name": "lines"}, "transform": [{"filter": "datum.p == 'A'"}],
     "mark": {"type": "text", "angle": 270, "baseline": "top", "align": "center", "dy": 13, "font": "DejaVu Sans", "fontSize": 35, "color": "black"},
     "encoding": {"x": {"datum": 1000, "type": "quantitative", "axis": {"orient": "top", "values": [500], "labels": false, "title": null}}, "y": {"field": "v", "type": "quantitative", "axis": null}, "text": {"field": "v", "type": "quantitative", "format": ".3f"}}}
   ]
  },
  {
   "width": 207, "height": 367,
   "title": {"text": "B: Sav⟷ Bam"},
   "resolve": {"axis": {"x": "independent", "y": "independent"}},
   "layer": [
    {"data": {"name": "pts"},
     "mark": {"type": "point", "shape": "circle", "filled": false, "color": "black", "strokeWidth": 2.2, "size": 80, "opacity": 1},
     "encoding": {
      "x": {"field": "r", "type": "quantitative", "scale": {"domain": [0, 1000], "nice": false}, "axis": {"orient": "bottom", "values": [0, 500, 1000], "format": "d", "labelFlush": false, "labelPadding": 31, "title": "replica", "titleFontSize": 38, "titlePadding": 27}},
      "y": {"field": "b", "type": "quantitative", "scale": {"domain": [0, 0.2], "nice": false}, "axis": {"orient": "left", "values": [0, 0.04, 0.08, 0.12, 0.16, 0.2], "format": "~g", "labelPadding": 32, "title": null}}
     }},
    {"data": {"name": "lines"}, "transform": [{"filter": "datum.p == 'B'"}],
     "mark": {"type": "rule", "color": "#f00000", "strokeWidth": 4.5},
     "encoding": {"y": {"field": "v", "type": "quantitative", "axis": {"orient": "right", "values": [0.04, 0.08, 0.12, 0.16], "labels": false, "title": null}}}},
    {"data": {"name": "lines"}, "transform": [{"filter": "datum.p == 'B'"}],
     "mark": {"type": "text", "angle": 270, "baseline": "top", "align": "center", "dy": 13, "font": "DejaVu Sans", "fontSize": 35, "color": "black"},
     "encoding": {"x": {"datum": 1000, "type": "quantitative", "axis": {"orient": "top", "values": [500], "labels": false, "title": null}}, "y": {"field": "v", "type": "quantitative", "axis": null}, "text": {"field": "v", "type": "quantitative", "format": ".3f"}}}
   ]
  },
  {
   "width": 207, "height": 367,
   "title": {"text": "C: Sav⟷ Aco"},
   "resolve": {"axis": {"x": "independent", "y": "independent"}},
   "layer": [
    {"data": {"name": "pts"},
     "mark": {"type": "point", "shape": "circle", "filled": false, "color": "black", "strokeWidth": 2.2, "size": 80, "opacity": 1},
     "encoding": {
      "x": {"field": "r", "type": "quantitative", "scale": {"domain": [0, 1000], "nice": false}, "axis": {"orient": "bottom", "values": [0, 500, 1000], "format": "d", "labelFlush": false, "labelPadding": 31, "title": "replica", "titleFontSize": 38, "titlePadding": 27}},
      "y": {"field": "c", "type": "quantitative", "scale": {"domain": [0, 0.2], "nice": false}, "axis": {"orient": "left", "values": [0, 0.04, 0.08, 0.12, 0.16, 0.2], "format": "~g", "labelPadding": 32, "title": null}}
     }},
    {"data": {"name": "lines"}, "transform": [{"filter": "datum.p == 'C'"}],
     "mark": {"type": "rule", "color": "#f00000", "strokeWidth": 4.5},
     "encoding": {"y": {"field": "v", "type": "quantitative", "axis": {"orient": "right", "values": [0.04, 0.08, 0.12, 0.16], "labels": false, "title": null}}}},
    {"data": {"name": "lines"}, "transform": [{"filter": "datum.p == 'C'"}],
     "mark": {"type": "text", "angle": 270, "baseline": "top", "align": "center", "dy": 13, "font": "DejaVu Sans", "fontSize": 35, "color": "black"},
     "encoding": {"x": {"datum": 1000, "type": "quantitative", "axis": {"orient": "top", "values": [500], "labels": false, "title": null}}, "y": {"field": "v", "type": "quantitative", "axis": null}, "text": {"field": "v", "type": "quantitative", "format": ".3f"}}}
   ]
  }
 ]
}
